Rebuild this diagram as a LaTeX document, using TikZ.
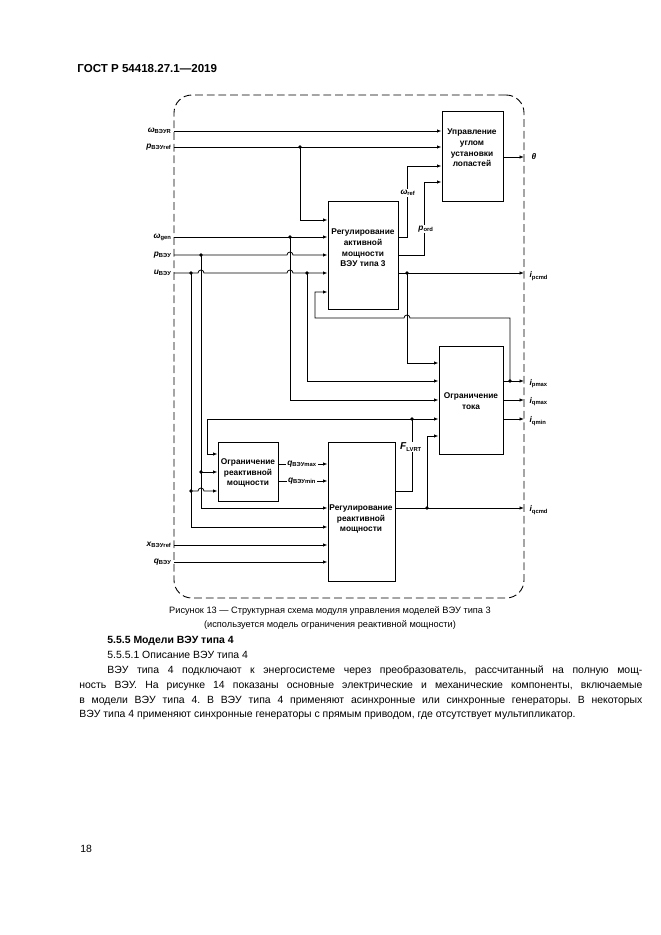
\documentclass[tikz,border=0pt]{standalone}
\usepackage{fontspec}
\setmainfont{Liberation Sans}
\usetikzlibrary{arrows.meta,calc,fit}
\newcommand{\vsub}[2]{\textit{#1}\textsubscript{#2}}
\frenchspacing
\begin{document}
\begin{tikzpicture}[x=0.9pt,y=-0.9pt, line width=0.7pt,
  blk/.style={draw, line width=0.8pt, inner sep=0pt},
  frm/.style={draw, dash pattern=on 7pt off 3.5pt, rounded corners=16pt, line width=0.8pt, inner sep=0pt},
  arr/.style={-{Latex[length=4pt,width=3pt]}},
  txt/.style={font=\bfseries\fontsize{7.5}{9.5}\selectfont, align=center, inner sep=0pt},
  lbl/.style={font=\bfseries\fontsize{7.5}{9}\selectfont, inner sep=1pt},
  wlbl/.style={lbl, fill=white},
  body/.style={font=\fontsize{9.4}{11}\selectfont, anchor=base west, inner sep=0pt}]
\fill[white] (0,0) rectangle (661,935);
\useasboundingbox (0,0) rectangle (661,935);

% header
\node[font=\bfseries\fontsize{10.4}{12}\selectfont, anchor=base west, inner sep=0pt] (hdr) at (77,72) {ГОСТ Р 54418.27.1—2019};

% frame and blocks
\coordinate (fa) at (174,95); \coordinate (fb) at (524,598);
\node[frm, fit=(fa) (fb)] (frame) {};
\coordinate (pa) at (442,111); \coordinate (pb) at (503,201);
\node[blk, fit=(pa) (pb)] (pitch) {};
\coordinate (aa) at (328,201); \coordinate (ab) at (398,309);
\node[blk, fit=(aa) (ab)] (act) {};
\coordinate (ca) at (439,346); \coordinate (cb) at (503,454);
\node[blk, fit=(ca) (cb)] (cur) {};
\coordinate (la) at (218,442); \coordinate (lb) at (278,501);
\node[blk, fit=(la) (lb)] (rlim) {};
\coordinate (ra) at (328,442); \coordinate (rb) at (395,581);
\node[blk, fit=(ra) (rb)] (rctl) {};

\node[txt] (pitchT) at (472,148) {Управление\\углом\\установки\\лопастей};
\node[txt] (actT) at (363,248) {Регулирование\\активной\\мощности\\ВЭУ типа 3};
\node[txt] (curT) at (471,401) {Ограничение\\тока};
\node[txt] (rlimT) at (248,473) {Ограничение\\реактивной\\мощности};
\node[txt] (rctlT) at (361,519) {Регулирование\\реактивной\\мощности};

% helper coordinates
\foreach \v in {131,147,157,166,182,220,237,255,273,292,318,363,381,400,419,436,454,464,472,481,491,508,527,545,562}
  \coordinate (y\v) at (0,\v);
\foreach \v in {174,191,201,207,290,300,307,315,407,412,424,427,510,524}
  \coordinate (x\v) at (\v,0);

% input ends
\coordinate (iwR) at (x174 |- y131);
\coordinate (ipref) at (x174 |- y147);
\coordinate (iwg) at (x174 |- y237);
\coordinate (ip) at (x174 |- y255);
\coordinate (iu) at (x174 |- y273);
\coordinate (ix) at (x174 |- y545);
\coordinate (iq) at (x174 |- y562);

% input labels
\node[lbl, anchor=east] (lwR) at ($(iwR)+(-1,0)$) {\vsub{ω}{ВЭУR}};
\node[lbl, anchor=east] (lpref) at ($(ipref)+(-1,0)$) {\vsub{p}{ВЭУref}};
\node[lbl, anchor=east] (lwg) at ($(iwg)+(-1,0)$) {\vsub{ω}{gen}};
\node[lbl, anchor=east] (lp) at ($(ip)+(-1,0)$) {\vsub{p}{ВЭУ}};
\node[lbl, anchor=east] (lu) at ($(iu)+(-1,0)$) {\vsub{u}{ВЭУ}};
\node[lbl, anchor=east] (lx) at ($(ix)+(-1,0)$) {\vsub{x}{ВЭУref}};
\node[lbl, anchor=east] (lq) at ($(iq)+(-1,0)$) {\vsub{q}{ВЭУ}};

% connectors: inputs
\draw[arr] (iwR) -- (pitch.west |- y131);
\draw[arr] (ipref) -- (pitch.west |- y147);
\draw[arr] (x300 |- y147) |- (act.west |- y220);
\draw[arr] (iwg) -- (act.west |- y237);
\draw[arr] (x290 |- y237) |- (cur.west |- y400);
\draw[arr] (ip) -- ($(x290 |- y255)+(-3,0)$) arc[start angle=180,end angle=0,radius=2.7pt] -- (act.west |- y255);
\draw[arr] (x201 |- y255) |- (rctl.west |- y508);
\draw[arr] (x201 |- y472) -- (rlim.west |- y472);
\draw[arr] (iu) -- ($(x201 |- y273)+(-3,0)$) arc[start angle=180,end angle=0,radius=2.7pt]
   -- ($(x290 |- y273)+(-3,0)$) arc[start angle=180,end angle=0,radius=2.7pt] -- (act.west |- y273);
\draw[arr] (x191 |- y273) |- (rctl.west |- y527);
\draw[arr] (x191 |- y491) -- ($(x201 |- y491)+(-3,0)$) arc[start angle=180,end angle=0,radius=2.7pt] -- (rlim.west |- y491);
\draw[arr] (x307 |- y273) |- (cur.west |- y381);
\draw[arr] (ix) -- (rctl.west |- y545);
\draw[arr] (iq) -- (rctl.west |- y562);

% active power outputs
\draw[arr] (act.east |- y237) -| (x407 |- y166) -- (pitch.west |- y166);
\draw[arr] (act.east |- y255) -| (x424 |- y182) -- (pitch.west |- y182);
\draw[arr] (act.east |- y273) -- (x524 |- y273);
\draw[arr] (x407 |- y273) |- (cur.west |- y363);

% feedback i_pmax
\draw[arr] (cur.east |- y381) -- (x524 |- y381);
\draw[arr] (x510 |- y381) |- ($(x407 |- y318)+(3,0)$) arc[start angle=0,end angle=180,radius=2.7pt] -| (x315 |- y292) -- (act.west |- y292);
\draw[arr] (cur.east |- y400) -- (x524 |- y400);
\draw[arr] (cur.east |- y419) -- (x524 |- y419);

% F_LVRT
\draw (rctl.east |- y491) -| (x412 |- y419);
\draw[arr] (x207 |- y419) -- (cur.west |- y419);
\draw[arr] (x207 |- y419) |- (rlim.west |- y454);

% i_qcmd
\draw[arr] (rctl.east |- y508) -- (x524 |- y508);
\draw[arr] (x427 |- y508) |- (cur.west |- y436);

% q limits
\draw[arr] (rlim.east |- y464) -- (rctl.west |- y464);
\draw[arr] (rlim.east |- y481) -- (rctl.west |- y481);

% theta
\draw[arr] (pitch.east |- y157) -- (x524 |- y157);

% junction dots
\foreach \p in {(x300 |- y147),(x290 |- y237),(x201 |- y255),(x191 |- y273),(x307 |- y273),(x407 |- y273),(x510 |- y381),(x201 |- y472),(x191 |- y491),(x412 |- y419),(x427 |- y508)}
  \fill \p circle[radius=1.6pt];

% internal labels
\node[wlbl] (lwref) at (408,193) {\vsub{ω}{ref}};
\node[wlbl] (lpord) at (426,229) {\vsub{p}{ord}};
\node[wlbl] (lflvrt) at (411,447) {\vsub{\fontsize{9}{9}\selectfont F}{LVRT}};
\node[wlbl] (lqmax) at (302,464) {\vsub{q}{ВЭУmax}};
\node[wlbl] (lqmin) at (302,481) {\vsub{q}{ВЭУmin}};

% output labels
\node[lbl, anchor=west] (ltheta) at (530,157) {\textit{θ}};
\node[lbl, anchor=west] (lipcmd) at (528,276) {\vsub{i}{pcmd}};
\node[lbl, anchor=west] (lipmax) at (528,384) {\vsub{i}{pmax}};
\node[lbl, anchor=west] (liqmax) at (528,402) {\vsub{i}{qmax}};
\node[lbl, anchor=west] (liqmin) at (528,421) {\vsub{i}{qmin}};
\node[lbl, anchor=west] (liqcmd) at (528,510) {\vsub{i}{qcmd}};

% caption
\node[font=\fontsize{8.3}{12.6}\selectfont, align=center, inner sep=0pt] (cap) at (330,618) {Рисунок 13 — Структурная схема модуля управления моделей ВЭУ типа 3\\(используется модель ограничения реактивной мощности)};

% body text
\node[body, font=\bfseries\fontsize{9.4}{11}\selectfont] (h1) at (107,643) {5.5.5 Модели ВЭУ типа 4};
\node[body] (h2) at (107,658) {5.5.5.1 Описание ВЭУ типа 4};
\node[body] (p1) at (107,673) {\makebox[481.5pt][s]{ВЭУ типа 4 подключают к энергосистеме через преобразователь, рассчитанный на полную мощ-}};
\node[body] (p2) at (79,688) {\makebox[506.7pt][s]{ность ВЭУ. На рисунке 14 показаны основные электрические и механические компоненты, включаемые}};
\node[body] (p3) at (79,703) {\makebox[506.7pt][s]{в модели ВЭУ типа 4. В ВЭУ типа 4 применяют асинхронные или синхронные генераторы. В некоторых}};
\node[body] (p4) at (79,717) {ВЭУ типа 4 применяют синхронные генераторы с прямым приводом, где отсутствует мультипликатор.};

\node[body] (pg) at (80,852) {18};
\end{tikzpicture}
\end{document}
